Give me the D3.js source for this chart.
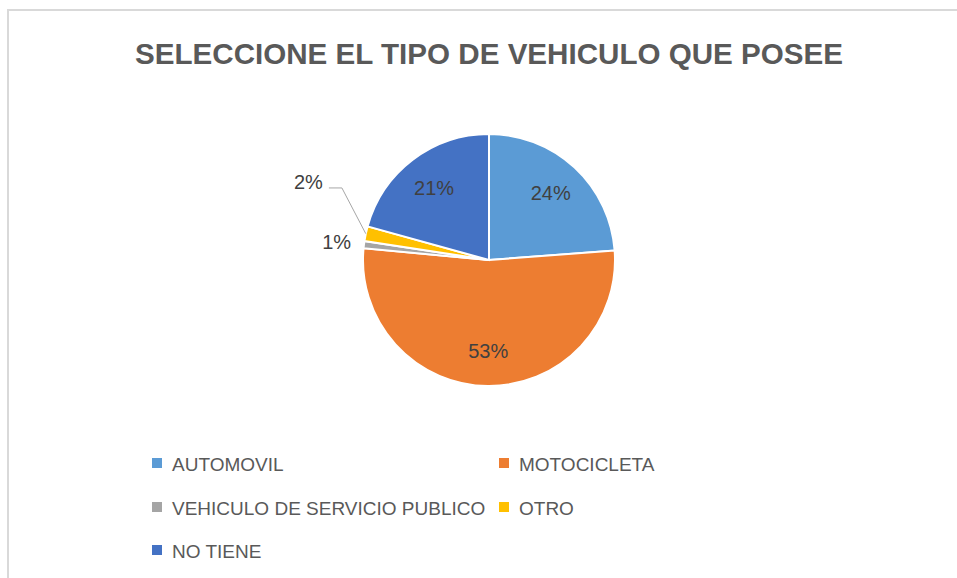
<!DOCTYPE html>
<html>
<head>
<meta charset="utf-8">
<script src="https://cdn.jsdelivr.net/npm/d3@7"></script>
<style>
  html, body { margin: 0; padding: 0; background: #fff; }
  svg { display: block; font-family: "Liberation Sans", Arial, sans-serif; }
</style>
</head>
<body>
<div id="chart"></div>
<script>
// data (shares in %, clockwise from 12 o'clock)
var title = "SELECCIONE EL TIPO DE VEHICULO QUE POSEE";
var categories = ["AUTOMOVIL", "MOTOCICLETA", "VEHICULO DE SERVICIO PUBLICO", "OTRO", "NO TIENE"];
var shares = [23.8, 52.7, 0.9, 1.9, 20.7];
var colors = ["#5B9BD5", "#ED7D31", "#A5A5A5", "#FFC000", "#4472C4"];

var W = 957, H = 578;
var cx = 489, cy = 260, R = 126;

var svg = d3.select("#chart").append("svg")
  .attr("width", W)
  .attr("height", H);

// chart frame (runs off the right and bottom edge)
svg.append("rect")
  .attr("x", 8).attr("y", 10)
  .attr("width", 970).attr("height", 590)
  .attr("fill", "none")
  .attr("stroke", "#d9d9d9")
  .attr("stroke-width", 2);

svg.append("text")
  .attr("x", cx).attr("y", 64)
  .attr("text-anchor", "middle")
  .attr("font-size", "30px")
  .attr("font-weight", "bold")
  .attr("fill", "#595959")
  .attr("textLength", 708)
  .attr("lengthAdjust", "spacingAndGlyphs")
  .text(title);

var data = categories.map(function(c, i){ return {name: c, value: shares[i], color: colors[i]}; });
var total = d3.sum(shares);
var pct = function(v){ return Math.round(v / total * 100) + "%"; };

var pie = d3.pie().sort(null).value(function(d){ return d.value; });
var arcs = pie(data);
var arc = d3.arc().innerRadius(0).outerRadius(R);
var labelArc = d3.arc().innerRadius(R * 0.72).outerRadius(R * 0.72);

var g = svg.append("g").attr("transform", "translate(" + cx + "," + cy + ")");

g.selectAll("path.slice")
  .data(arcs)
  .enter().append("path")
  .attr("class", "slice")
  .attr("d", arc)
  .attr("fill", function(d){ return d.data.color; })
  .attr("stroke", "#fff")
  .attr("stroke-width", 2);

function polar(a, r){ return [Math.sin(a) * r, -Math.cos(a) * r]; }

arcs.forEach(function(d, i){
  var mid = (d.startAngle + d.endAngle) / 2;
  var frac = d.data.value / total;
  if (frac >= 0.05){
    var c = labelArc.centroid(d);
    g.append("text")
      .attr("x", c[0]).attr("y", c[1])
      .attr("dy", "0.35em")
      .attr("text-anchor", "middle")
      .attr("font-size", "20px")
      .attr("fill", "#404040")
      .text(pct(d.data.value));
  }
  else if (frac < 0.015){
    // tiny slice: label sits just outside, no leader
    var p = polar(mid, R + 13);
    g.append("text")
      .attr("x", p[0]).attr("y", p[1])
      .attr("dy", "0.3em")
      .attr("text-anchor", "end")
      .attr("font-size", "20px")
      .attr("fill", "#404040")
      .text(pct(d.data.value));
  }
  else {
    // label pulled out with a leader line
    var p0 = polar(mid, R),
        p1 = polar(mid + 0.245, R * 1.3),
        p2 = [p1[0] - 13, p1[1]];
    g.append("polyline")
      .attr("points", [p0, p1, p2].map(function(p){ return p.join(","); }).join(" "))
      .attr("fill", "none")
      .attr("stroke", "#a6a6a6")
      .attr("stroke-width", 1);
    g.append("text")
      .attr("x", p2[0] - 6).attr("y", p2[1] + 1)
      .attr("text-anchor", "end")
      .attr("font-size", "20px")
      .attr("fill", "#404040")
      .text(pct(d.data.value));
  }
});

// legend, two columns
var colX = [152, 499];
var rowY = [471, 515, 558];
var legend = svg.selectAll("g.legend")
  .data(data)
  .enter().append("g")
  .attr("class", "legend")
  .attr("transform", function(d, i){
    return "translate(" + colX[i % 2] + "," + rowY[Math.floor(i / 2)] + ")";
  });

legend.append("rect")
  .attr("x", 0).attr("y", -13)
  .attr("width", 10).attr("height", 10)
  .attr("fill", function(d){ return d.color; });

legend.append("text")
  .attr("x", 20).attr("y", 0)
  .attr("font-size", "19px")
  .attr("fill", "#595959")
  .text(function(d){ return d.name; });
</script>
</body>
</html>
